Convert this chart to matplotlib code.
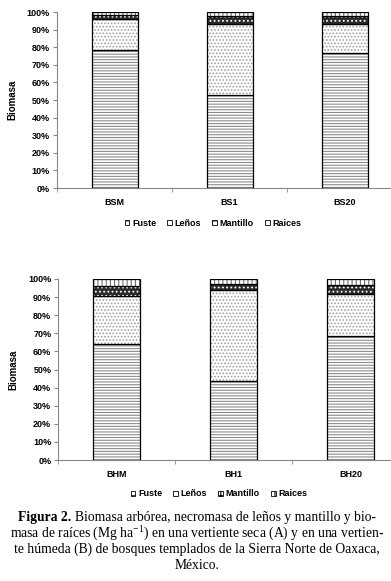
import numpy as np
import matplotlib
matplotlib.use("Agg")
import matplotlib.pyplot as plt
import matplotlib.patches as mpatches
from matplotlib.ticker import PercentFormatter, FixedLocator

plt.rcParams['font.family'] = ['Liberation Sans', 'DejaVu Sans']
plt.rcParams['mathtext.fontset'] = 'custom'
plt.rcParams['mathtext.rm'] = 'Liberation Serif'
plt.rcParams['hatch.linewidth'] = 0.8

# datos (porcentaje de biomasa)
comps = ["Fuste", "Leños", "Mantillo", "Raices"]
sitios_a = ["BSM", "BS1", "BS20"]
fuste_a = [78.2, 53.0, 76.7]
lenos_a = [17.8, 40.4, 16.7]
mantillo_a = [2.5, 4.1, 4.1]
raices_a = [1.5, 2.5, 2.5]

sitios_b = ["BHM", "BH1", "BH20"]
fuste_b = [64.0, 43.6, 68.7]
lenos_b = [26.6, 50.4, 23.0]
mantillo_b = [5.4, 3.2, 5.0]
raices_b = [4.0, 2.8, 3.3]

# relleno, color del trama, trama
estilos = [
    ('white', '#8c8c8c', '------'),
    ('white', '#a0a0a0', '.....'),
    ('#2a2a2a', 'white', '....'),
    ('white', '#707070', '||||'),
]

fig = plt.figure(figsize=(3.91, 5.81), dpi=100)


def panel(rect, sitios, series, leg_xy, ylab_x):
    ax = fig.add_axes(rect)
    x = np.arange(len(sitios))
    bottom = np.zeros(len(sitios))
    for vals, (fc, hc, h) in zip(series, estilos):
        ax.bar(x, vals, 0.4, bottom=bottom, color=fc, edgecolor=hc,
               hatch=h, linewidth=0)
        ax.bar(x, vals, 0.4, bottom=bottom, fill=False, edgecolor='black',
               linewidth=0.9)
        bottom += np.array(vals)
    ax.set_xlim(-0.5, 2.5)
    ax.set_ylim(0, 100)
    ax.yaxis.set_major_locator(FixedLocator(np.arange(0, 101, 10)))
    ax.yaxis.set_major_formatter(PercentFormatter(decimals=0))
    ax.set_xticks(x)
    ax.set_xticklabels(sitios, fontsize=6.5, fontweight='bold')
    ax.xaxis.set_minor_locator(FixedLocator([-0.5, 0.5, 1.5, 2.5]))
    ax.tick_params(axis='x', which='major', length=0, pad=7)
    ax.tick_params(axis='x', which='minor', length=3, color='#888888')
    ax.tick_params(axis='y', length=3, color='#888888', labelsize=6.5, pad=2)
    for lab in ax.get_yticklabels():
        lab.set_fontweight('bold')
    for s in ['top', 'right']:
        ax.spines[s].set_visible(False)
    for s in ['left', 'bottom']:
        ax.spines[s].set_color('#888888')
        ax.spines[s].set_linewidth(0.8)
    ax.set_ylabel("Biomasa", fontsize=7, fontweight='bold')
    ax.yaxis.set_label_coords(ylab_x, 0.5)

    handles = [mpatches.Patch(facecolor='white', edgecolor='black',
                              hatch=h, linewidth=0.6, label=n)
               for h, n in zip(['--', '', '++', '|'], comps)]
    fig.legend(handles=handles, loc='center', bbox_to_anchor=leg_xy, ncol=4,
               frameon=False, handlelength=0.55, handleheight=0.55,
               handletextpad=0.3, columnspacing=1.2,
               prop={'size': 6.5, 'weight': 'bold'})
    return ax


panel([57 / 391, 1 - 188 / 581, 345 / 391, 176 / 581], sitios_a,
      [fuste_a, lenos_a, mantillo_a, raices_a], (213 / 391, 1 - 223 / 581),
      -0.115)
panel([58.3 / 391, 1 - 460 / 581, 351 / 391, 181 / 581], sitios_b,
      [fuste_b, lenos_b, mantillo_b, raices_b], (219 / 391, 1 - 494 / 581),
      -0.113)

# pie de figura
serif = {'family': 'Liberation Serif', 'size': 9.8}
fig.canvas.draw()
r = fig.canvas.get_renderer()
lines = [
    "Biomasa arbórea, necromasa de leños y mantillo y bio-",
    "masa de raíces (Mg ha$^{\\mathregular{-1}}$) en una vertiente seca (A) y en una vertien-",
    "te húmeda (B) de bosques templados de la Sierra Norte de Oaxaca,",
    "México.",
]
ys = [521, 537, 553, 569]
# primera línea: "Figura 2." en negrita + resto
t0 = fig.text(0, 0, "Figura 2. ", fontdict=serif, fontweight='bold')
t1 = fig.text(0, 0, lines[0], fontdict=serif)
w0 = t0.get_window_extent(r).width
w1 = t1.get_window_extent(r).width
x0 = (394 - (w0 + w1)) / 2
t0.set_position((x0 / 391, 1 - ys[0] / 581))
t1.set_position(((x0 + w0) / 391, 1 - ys[0] / 581))
t0.set_va('baseline')
t1.set_va('baseline')
for s, y in zip(lines[1:], ys[1:]):
    fig.text(197 / 391, 1 - y / 581, s, ha='center', va='baseline',
             fontdict=serif)

fig.savefig("out.png", dpi=100)
